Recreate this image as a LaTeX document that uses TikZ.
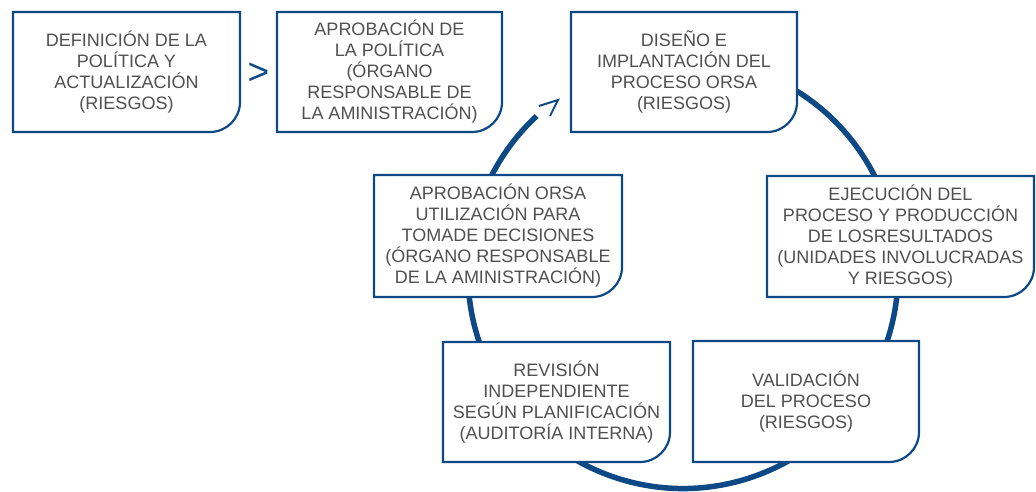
\documentclass[tikz,border=0pt]{standalone}
\usepackage{fontspec}
\setmainfont{Liberation Sans}
\usetikzlibrary{calc}
\definecolor{navy}{HTML}{0D4A85}
\definecolor{txtgray}{HTML}{505050}
\pgfdeclarelayer{background}
\pgfsetlayers{background,main}
\tikzset{
 txt/.style={text=txtgray, font=\fontsize{18}{21}\selectfont, align=center, inner sep=0pt, outer sep=0pt, draw=none},
 boxline/.style={draw=navy, line width=2.2pt, fill=white, line join=miter},
 ring/.style={draw=navy, line width=5.5pt},
 tipline/.style={draw=navy, line width=2pt, line join=miter, line cap=butt},
 gtsign/.style={text=navy, font=\fontsize{37}{37}\selectfont, inner sep=0pt}
}
\newcommand\boxoutline[1]{\begin{pgfonlayer}{background}\draw[boxline] (#1.south west) -- (#1.north west) -- (#1.north east) -- ([yshift=30pt]#1.south east) arc[start angle=0,end angle=-90,radius=30pt] -- cycle;\end{pgfonlayer}}
\begin{document}
\begin{tikzpicture}[x=1pt,y=-1pt]
\useasboundingbox (0,0) rectangle (1036,492);
\coordinate (cc) at (683,273.5);
\begin{pgfonlayer}{background}
\draw[ring] ($(cc)+(-70:215)$) arc[start angle=-70,end angle=227.1,radius=215];
\end{pgfonlayer}
\coordinate (tipA) at (539,106);
\coordinate (apex) at (558,100);
\coordinate (tipB) at (550,116);
\draw[tipline] (tipA) -- (apex) -- (tipB);

\node[txt, minimum width=227pt, minimum height=120pt] (b1) at (126.5,72) {DEFINICIÓN DE LA\\POLÍTICA Y\\ACTUALIZACIÓN\\(RIESGOS)};
\boxoutline{b1}
\node[gtsign] (gt) at (258.5,74) {>};
\node[txt, minimum width=225pt, minimum height=120pt] (b2) at (389.5,72) {APROBACIÓN DE\\LA POLÍTICA\\(ÓRGANO\\RESPONSABLE DE\\LA AMINISTRACIÓN)};
\boxoutline{b2}
\node[txt, minimum width=226pt, minimum height=120pt] (b3) at (684,72) {DISEÑO E\\IMPLANTACIÓN DEL\\PROCESO ORSA\\(RIESGOS)};
\boxoutline{b3}
\node[txt, minimum width=267pt, minimum height=121pt] (b4) at (900.5,236.5) {EJECUCIÓN DEL\\PROCESO Y PRODUCCIÓN\\DE LOSRESULTADOS\\(UNIDADES INVOLUCRADAS\\Y RIESGOS)};
\boxoutline{b4}
\node[txt, minimum width=248pt, minimum height=122pt] (b5) at (498,236) {APROBACIÓN ORSA\\UTILIZACIÓN PARA\\TOMADE DECISIONES\\(ÓRGANO RESPONSABLE\\DE LA AMINISTRACIÓN)};
\boxoutline{b5}
\node[txt, minimum width=227pt, minimum height=120pt] (b6) at (556.5,402) {REVISIÓN\\INDEPENDIENTE\\SEGÚN PLANIFICACIÓN\\(AUDITORÍA INTERNA)};
\boxoutline{b6}
\node[txt, minimum width=226pt, minimum height=121pt] (b7) at (806,401.5) {VALIDACIÓN\\DEL PROCESO\\(RIESGOS)};
\boxoutline{b7}
\end{tikzpicture}
\end{document}
